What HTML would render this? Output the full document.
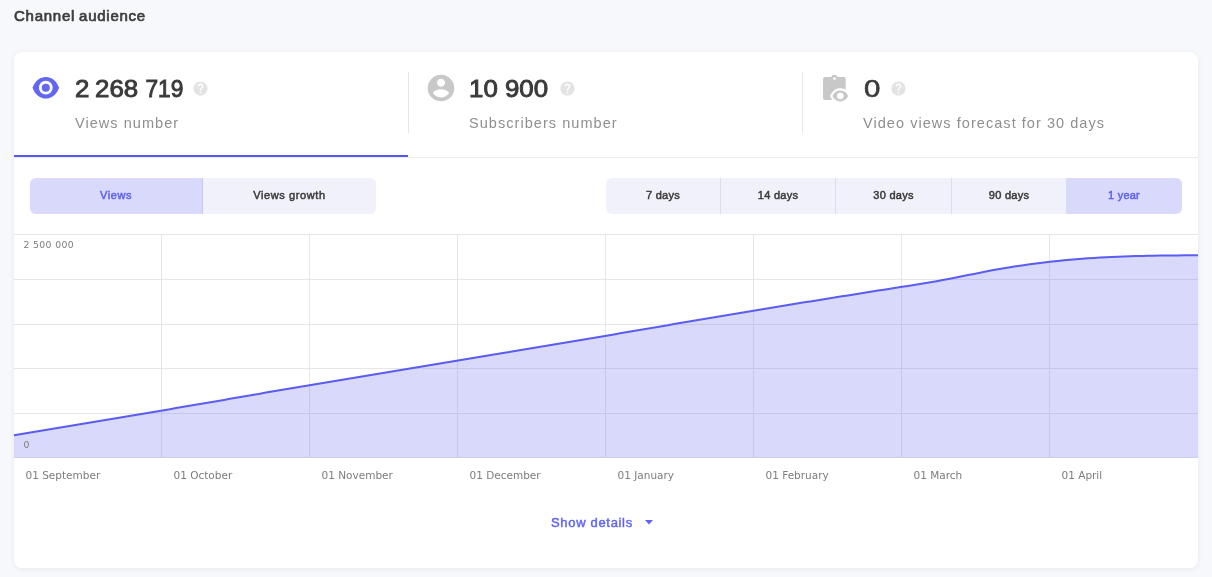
<!DOCTYPE html>
<html lang="en">
<head>
<meta charset="utf-8">
<title>Channel audience</title>
<style>
*{box-sizing:border-box;margin:0;padding:0}
html,body{width:1212px;height:577px;overflow:hidden}
body{background:#f7f8fc;font-family:"Liberation Sans",Arial,sans-serif;color:#3a3a3a;position:relative}
.abs{position:absolute;white-space:nowrap}
h1{position:absolute;left:14px;top:6px;font-size:15px;line-height:20px;font-weight:normal;-webkit-text-stroke:.7px #3d3d3d;color:#3d3d3d;letter-spacing:.75px;word-spacing:-1px;white-space:nowrap}
.card{position:absolute;left:14px;top:52px;width:1184px;height:516px;background:#fff;border-radius:8px;box-shadow:0 1px 5px rgba(30,30,50,.075)}
.tabs{position:absolute;left:0;top:0;width:1184px;height:106px;border-bottom:1px solid #ececec}
.tab{position:absolute;top:0;height:105px;width:394px}
.tab.active{border-bottom:2px solid #5457f0}
.sep{position:absolute;top:20px;width:1px;height:61px;background:#e6e6e6}
.num{position:absolute;top:22px;font-size:23.500px;line-height:30px;font-weight:normal;-webkit-text-stroke:.9px #3a3a3a;color:#3a3a3a;letter-spacing:0;word-spacing:0;transform:scaleX(1.1);transform-origin:0 0;white-space:nowrap}
.lbl{position:absolute;top:61px;font-size:14.500px;line-height:20px;color:#8f8f8f;letter-spacing:1.050px;white-space:nowrap}
.seg{position:absolute;top:126px;height:36px;border-radius:6px;background:#f1f1fb;overflow:hidden}
.seg div{position:absolute;top:0;height:36px;line-height:35px;text-align:center;font-size:11px;font-weight:normal;-webkit-text-stroke:.5px;color:#3c3c3c;white-space:nowrap}
.seg div.br{border-right:1px solid #dddde9}
.seg div.on{background:#d9d9fb;color:#5f62f2}
.seg div.on.br{border-right:1px solid #c6c6f2}
.chart{position:absolute;left:0;top:182px;width:1184px;height:224px}
.xl{position:absolute;top:416px;font-size:10.500px;line-height:14px;color:#7c7c7c;margin-left:-.5px;white-space:nowrap;font-family:"DejaVu Sans","Liberation Sans",sans-serif}
.yl{position:absolute;left:9.500px;font-size:9.300px;line-height:12px;color:#7c7c7c;letter-spacing:.35px;margin-top:1px;white-space:nowrap;font-family:"DejaVu Sans","Liberation Sans",sans-serif}
.more{position:absolute;left:537px;top:462px;font-size:13px;line-height:18px;font-weight:normal;-webkit-text-stroke:.45px;letter-spacing:.68px;color:#6063f2;white-space:nowrap}
</style>
</head>
<body>
<h1>Channel audience</h1>
<div class="card">
  <div class="tabs">
    <div class="tab active" style="left:0">
      <svg class="abs" style="left:16px;top:20px" width="32" height="32" viewBox="0 0 32 32"><path d="M2.5 15.7 C5.2 8.700 10 5 15.800 5 C21.600 5 26.400 8.700 29.100 15.700 C26.400 22.800 21.600 26.500 15.800 26.500 C10 26.500 5.200 22.800 2.500 15.700 Z" fill="#6366f1"/><circle cx="15.8" cy="15.7" r="6.9" fill="#fff"/><circle cx="15.8" cy="15.7" r="4" fill="#6366f1"/></svg>
      <div class="num" style="left:61px">2 <span style="margin-left:-1.400px">268</span> <span style="display:inline-block;margin-left:.500px;transform:scaleX(.88);transform-origin:0 0">719</span></div>
      <svg class="abs help" style="left:178px;top:28px" width="17" height="17" viewBox="0 0 24 24"><path fill="#e3e3e3" d="M12 2C6.48 2 2 6.48 2 12s4.48 10 10 10 10-4.480 10-10S17.52 2 12 2zm1 17h-2v-2h2v2zm2.070-7.750l-.9.920C13.450 12.900 13 13.500 13 15h-2v-.5c0-1.100.450-2.100 1.170-2.830l1.240-1.260c.370-.360.590-.860.590-1.410 0-1.100-.9-2-2-2s-2 .9-2 2H8c0-2.210 1.790-4 4-4s4 1.790 4 4c0 .880-.360 1.680-.930 2.250z"/></svg>
      <div class="lbl" style="left:61px">Views number</div>
    </div>
    <div class="sep" style="left:394px"></div>
    <div class="tab" style="left:394px">
      <svg class="abs" style="left:17px;top:20px" width="32" height="32" viewBox="0 0 24 24"><path fill="#c8c8c8" d="M12 2C6.48 2 2 6.48 2 12s4.48 10 10 10 10-4.480 10-10S17.52 2 12 2zm0 3c1.660 0 3 1.340 3 3s-1.340 3-3 3-3-1.340-3-3 1.340-3 3-3zm0 14.200c-2.500 0-4.710-1.280-6-3.220.030-1.990 4-3.080 6-3.080 1.990 0 5.970 1.090 6 3.080-1.290 1.940-3.500 3.220-6 3.220z"/></svg>
      <div class="num" style="left:61px">10 900</div>
      <svg class="abs help" style="left:151px;top:28px" width="17" height="17" viewBox="0 0 24 24"><path fill="#e3e3e3" d="M12 2C6.48 2 2 6.48 2 12s4.48 10 10 10 10-4.480 10-10S17.52 2 12 2zm1 17h-2v-2h2v2zm2.070-7.750l-.9.920C13.450 12.900 13 13.500 13 15h-2v-.5c0-1.100.450-2.100 1.170-2.830l1.240-1.260c.370-.360.590-.860.590-1.410 0-1.100-.9-2-2-2s-2 .9-2 2H8c0-2.210 1.790-4 4-4s4 1.790 4 4c0 .880-.360 1.680-.930 2.250z"/></svg>
      <div class="lbl" style="left:61px">Subscribers number</div>
    </div>
    <div class="sep" style="left:788px"></div>
    <div class="tab" style="left:788px">
      <svg class="abs" style="left:17px;top:20px" width="34" height="32" viewBox="0 0 34 32">
        <path fill="#c8c8c8" d="M6 5H12.200a3.430 3.430 0 0 1 6.400 0H24.700a2 2 0 0 1 2 2V26a2 2 0 0 1-2 2H6a2 2 0 0 1-2-2V7a2 2 0 0 1 2-2z"/>
        <circle cx="15.400" cy="6.600" r="1.450" fill="#fff"/>
        <path fill="#fff" d="M11 24c2.300-5.200 6-7.800 10.300-7.800s8 2.600 10.300 7.800c-2.300 5.200-6 7.800-10.300 7.800s-8-2.600-10.300-7.800z"/>
        <path fill="#c8c8c8" d="M13.400 24c1.900-3.700 4.600-5.400 7.900-5.400s6 1.700 7.900 5.400c-1.900 3.700-4.600 5.400-7.900 5.400s-6-1.700-7.900-5.400z"/>
        <circle cx="21.300" cy="24" r="3.300" fill="#fff"/>
      </svg>
      <div class="num" style="left:62px;transform:scaleX(1.25);-webkit-text-stroke-width:.6px">0</div>
      <svg class="abs help" style="left:88.200px;top:28px" width="17" height="17" viewBox="0 0 24 24"><path fill="#e3e3e3" d="M12 2C6.48 2 2 6.48 2 12s4.48 10 10 10 10-4.480 10-10S17.52 2 12 2zm1 17h-2v-2h2v2zm2.070-7.750l-.9.920C13.450 12.900 13 13.500 13 15h-2v-.5c0-1.100.450-2.100 1.170-2.830l1.240-1.260c.370-.360.590-.860.590-1.410 0-1.100-.9-2-2-2s-2 .9-2 2H8c0-2.210 1.790-4 4-4s4 1.790 4 4c0 .880-.360 1.680-.930 2.250z"/></svg>
      <div class="lbl" style="left:61px">Video views forecast for 30 days</div>
    </div>
  </div>

  <div class="seg" style="left:16px;width:346px;letter-spacing:.6px">
    <div class="on br" style="left:0;width:173px">Views</div>
    <div style="left:173px;width:173px">Views growth</div>
  </div>
  <div class="seg" style="left:592px;width:576px;letter-spacing:.25px">
    <div class="br" style="left:0;width:115px">7 days</div>
    <div class="br" style="left:115px;width:115px">14 days</div>
    <div class="br" style="left:230px;width:116px">30 days</div>
    <div style="left:346px;width:114px">90 days</div>
    <div class="on" style="left:460px;width:116px">1 year</div>
  </div>

  <svg class="chart" width="1184" height="224" viewBox="0 0 1184 224">
    <g stroke="#e6e6e6" stroke-width="1" shape-rendering="crispEdges">
      <path d="M0 .5H1184M0 45.500H1184M0 90.500H1184M0 134.500H1184M0 179.500H1184"/>
      <path d="M147.500 0V224M295.500 0V224M443.500 0V224M591.500 0V224M739.500 0V224M887.500 0V224M1035.500 0V224"/>
    </g>
    <path d="M0 201.3 L6 200.3 L12 199.3 L18 198.3 L24 197.3 L30 196.3 L36 195.3 L42 194.3 L48 193.3 L54 192.3 L60 191.3 L66 190.3 L72 189.3 L78 188.3 L84 187.3 L90 186.3 L96 185.3 L102 184.3 L108 183.3 L114 182.3 L120 181.3 L126 180.3 L132 179.2 L138 178.2 L144 177.2 L150 176.2 L156 175.2 L162 174.1 L168 173.1 L174 172.1 L180 171.0 L186 170.0 L192 169.0 L198 167.9 L204 166.9 L210 165.9 L216 164.8 L222 163.8 L228 162.8 L234 161.7 L240 160.7 L246 159.7 L252 158.6 L258 157.6 L264 156.6 L270 155.6 L276 154.5 L282 153.5 L288 152.5 L294 151.5 L300 150.5 L306 149.4 L312 148.4 L318 147.4 L324 146.4 L330 145.4 L336 144.4 L342 143.4 L348 142.4 L354 141.4 L360 140.4 L366 139.4 L372 138.4 L378 137.4 L384 136.4 L390 135.5 L396 134.5 L402 133.5 L408 132.5 L414 131.5 L420 130.5 L426 129.5 L432 128.5 L438 127.5 L444 126.5 L450 125.5 L456 124.5 L462 123.6 L468 122.6 L474 121.6 L480 120.6 L486 119.6 L492 118.6 L498 117.6 L504 116.6 L510 115.6 L516 114.6 L522 113.5 L528 112.5 L534 111.5 L540 110.5 L546 109.5 L552 108.5 L558 107.5 L564 106.5 L570 105.5 L576 104.4 L582 103.4 L588 102.4 L594 101.4 L600 100.4 L606 99.3 L612 98.3 L618 97.3 L624 96.3 L630 95.2 L636 94.2 L642 93.2 L648 92.2 L654 91.2 L660 90.1 L666 89.1 L672 88.1 L678 87.1 L684 86.0 L690 85.0 L696 84.0 L702 83.0 L708 82.0 L714 81.0 L720 80.0 L726 79.0 L732 78.0 L738 77.0 L744 76.0 L750 75.0 L756 74.0 L762 73.0 L768 72.0 L774 71.0 L780 70.1 L786 69.1 L792 68.1 L798 67.2 L804 66.2 L810 65.2 L816 64.3 L822 63.3 L828 62.3 L834 61.4 L840 60.4 L846 59.5 L852 58.5 L858 57.6 L864 56.6 L870 55.7 L876 54.7 L882 53.8 L888 52.8 L894 51.9 L900 50.9 L906 50.0 L912 49.0 L918 48.0 L924 46.9 L930 45.8 L936 44.7 L942 43.5 L948 42.3 L954 41.1 L960 39.9 L966 38.7 L972 37.5 L978 36.3 L984 35.2 L990 34.2 L996 33.2 L1002 32.3 L1008 31.4 L1014 30.5 L1020 29.7 L1026 29.0 L1032 28.2 L1038 27.6 L1044 26.9 L1050 26.3 L1056 25.7 L1062 25.2 L1068 24.7 L1074 24.3 L1080 23.9 L1086 23.5 L1092 23.2 L1098 22.9 L1104 22.7 L1110 22.4 L1116 22.3 L1122 22.1 L1128 22.0 L1134 21.8 L1140 21.7 L1146 21.6 L1152 21.6 L1158 21.5 L1164 21.4 L1170 21.3 L1176 21.3 L1182 21.2 L1184 21.2 L1184 223 L0 223 Z" fill="#6366f1" fill-opacity=".25"/>
    <path d="M0 201.3 L6 200.3 L12 199.3 L18 198.3 L24 197.3 L30 196.3 L36 195.3 L42 194.3 L48 193.3 L54 192.3 L60 191.3 L66 190.3 L72 189.3 L78 188.3 L84 187.3 L90 186.3 L96 185.3 L102 184.3 L108 183.3 L114 182.3 L120 181.3 L126 180.3 L132 179.2 L138 178.2 L144 177.2 L150 176.2 L156 175.2 L162 174.1 L168 173.1 L174 172.1 L180 171.0 L186 170.0 L192 169.0 L198 167.9 L204 166.9 L210 165.9 L216 164.8 L222 163.8 L228 162.8 L234 161.7 L240 160.7 L246 159.7 L252 158.6 L258 157.6 L264 156.6 L270 155.6 L276 154.5 L282 153.5 L288 152.5 L294 151.5 L300 150.5 L306 149.4 L312 148.4 L318 147.4 L324 146.4 L330 145.4 L336 144.4 L342 143.4 L348 142.4 L354 141.4 L360 140.4 L366 139.4 L372 138.4 L378 137.4 L384 136.4 L390 135.5 L396 134.5 L402 133.5 L408 132.5 L414 131.5 L420 130.5 L426 129.5 L432 128.5 L438 127.5 L444 126.5 L450 125.5 L456 124.5 L462 123.6 L468 122.6 L474 121.6 L480 120.6 L486 119.6 L492 118.6 L498 117.6 L504 116.6 L510 115.6 L516 114.6 L522 113.5 L528 112.5 L534 111.5 L540 110.5 L546 109.5 L552 108.5 L558 107.5 L564 106.5 L570 105.5 L576 104.4 L582 103.4 L588 102.4 L594 101.4 L600 100.4 L606 99.3 L612 98.3 L618 97.3 L624 96.3 L630 95.2 L636 94.2 L642 93.2 L648 92.2 L654 91.2 L660 90.1 L666 89.1 L672 88.1 L678 87.1 L684 86.0 L690 85.0 L696 84.0 L702 83.0 L708 82.0 L714 81.0 L720 80.0 L726 79.0 L732 78.0 L738 77.0 L744 76.0 L750 75.0 L756 74.0 L762 73.0 L768 72.0 L774 71.0 L780 70.1 L786 69.1 L792 68.1 L798 67.2 L804 66.2 L810 65.2 L816 64.3 L822 63.3 L828 62.3 L834 61.4 L840 60.4 L846 59.5 L852 58.5 L858 57.6 L864 56.6 L870 55.7 L876 54.7 L882 53.8 L888 52.8 L894 51.9 L900 50.9 L906 50.0 L912 49.0 L918 48.0 L924 46.9 L930 45.8 L936 44.7 L942 43.5 L948 42.3 L954 41.1 L960 39.9 L966 38.7 L972 37.5 L978 36.3 L984 35.2 L990 34.2 L996 33.2 L1002 32.3 L1008 31.4 L1014 30.5 L1020 29.7 L1026 29.0 L1032 28.2 L1038 27.6 L1044 26.9 L1050 26.3 L1056 25.7 L1062 25.2 L1068 24.7 L1074 24.3 L1080 23.9 L1086 23.5 L1092 23.2 L1098 22.9 L1104 22.7 L1110 22.4 L1116 22.3 L1122 22.1 L1128 22.0 L1134 21.8 L1140 21.7 L1146 21.6 L1152 21.6 L1158 21.5 L1164 21.4 L1170 21.3 L1176 21.3 L1182 21.2 L1184 21.2" fill="none" stroke="#5a5df0" stroke-width="2" stroke-linejoin="round"/>
    <path d="M0 223.500H1184" stroke="#c6cfe8" stroke-width="1" shape-rendering="crispEdges"/>
  </svg>
  <div class="yl" style="top:186px">2 500 000</div>
  <div class="yl" style="top:386px">0</div>
  <div class="xl" style="left:12px">01 September</div>
  <div class="xl" style="left:160px">01 October</div>
  <div class="xl" style="left:308px">01 November</div>
  <div class="xl" style="left:456px">01 December</div>
  <div class="xl" style="left:604px">01 January</div>
  <div class="xl" style="left:752px">01 February</div>
  <div class="xl" style="left:900px">01 March</div>
  <div class="xl" style="left:1048px">01 April</div>

  <div class="more">Show details</div>
  <svg class="abs" style="left:631px;top:468px" width="8" height="5" viewBox="0 0 8 5"><path d="M0 0h8L4 4.500z" fill="#5f62f2"/></svg>
</div>
</body>
</html>
